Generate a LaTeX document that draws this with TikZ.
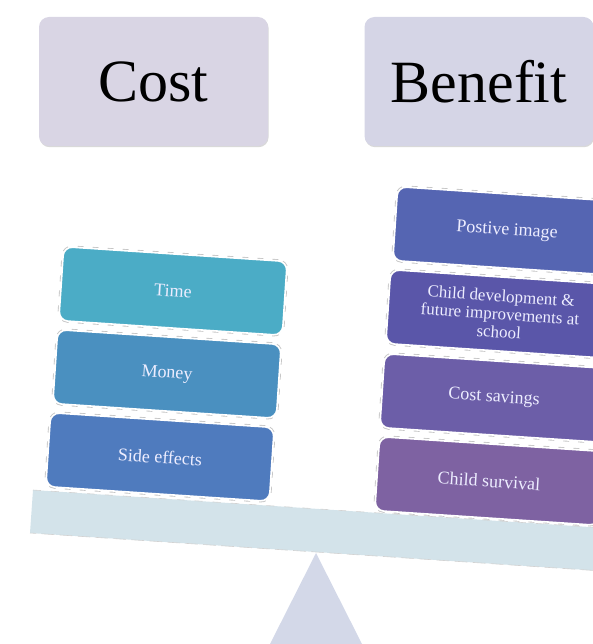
\documentclass[tikz,border=0pt]{standalone}
\usepackage{fontspec}
\setmainfont{Liberation Serif}
\usetikzlibrary{shadows}

\definecolor{headcost}{HTML}{D9D5E4}
\definecolor{headbenefit}{HTML}{D5D5E6}
\definecolor{beamcol}{HTML}{D3E3EA}
\definecolor{fulcrumcol}{HTML}{D3D8E8}
\definecolor{timecol}{HTML}{4BACC6}
\definecolor{moneycol}{HTML}{4A90C0}
\definecolor{sidecol}{HTML}{4F7BBE}
\definecolor{imagecol}{HTML}{5565B2}
\definecolor{devcol}{HTML}{5A56A9}
\definecolor{savecol}{HTML}{6C5EA8}
\definecolor{survcol}{HTML}{7E62A2}

\begin{document}
\begin{tikzpicture}
	[x=1pt, y=-1pt,
	head/.style={rectangle,rounded corners=10pt,minimum width=229pt,minimum height=129pt,inner sep=0pt,
		font=\fontsize{60}{60}\selectfont,drop shadow={shadow xshift=.6pt,shadow yshift=-1.2pt,opacity=.3}},
	weight/.style={rectangle,rounded corners=9pt,minimum width=224pt,minimum height=74pt,inner sep=2pt,
		draw=white,line width=1.6pt,text=white!93!blue,align=center,rotate=-3.8,
		font=\fontsize{18}{18}\selectfont,
		preaction={draw=gray!45,dash pattern=on 6pt off 9pt,line width=3.4pt}}]
	\useasboundingbox (0,0) rectangle (592,644);
	% see-saw
	\fill[fulcrumcol] (316,553) -- (362,644) -- (270,644) -- cycle;
	\fill[beamcol] (33,490) -- (650,531) -- (647,574) -- (30,533) -- cycle;
	\draw[gray!35,dash pattern=on 8pt off 10pt,line width=.6pt] (33,490) -- (650,531) (647,574) -- (30,533) -- cycle;
	% headings
	\node (cost) [head,fill=headcost] at (153.5,81.5) {Cost};
	\node (benefit) [head,fill=headbenefit] at (479,81.5) {Benefit};
	% cost side
	\node (time) [weight,fill=timecol] at (173,291) {Time};
	\node (money) [weight,fill=moneycol] at (167,374) {Money};
	\node (side) [weight,fill=sidecol] at (160,457) {Side effects};
	% benefit side
	\node (image) [weight,fill=imagecol] at (507,231) {Postive image};
	\node (dev) [weight,fill=devcol,font=\fontsize{17}{18}\selectfont] at (500,314)
		{Child development \&\\future improvements at\\school};
	\node (save) [weight,fill=savecol] at (494,398) {Cost savings};
	\node (surv) [weight,fill=survcol] at (489,481) {Child survival};
\end{tikzpicture}
\end{document}
